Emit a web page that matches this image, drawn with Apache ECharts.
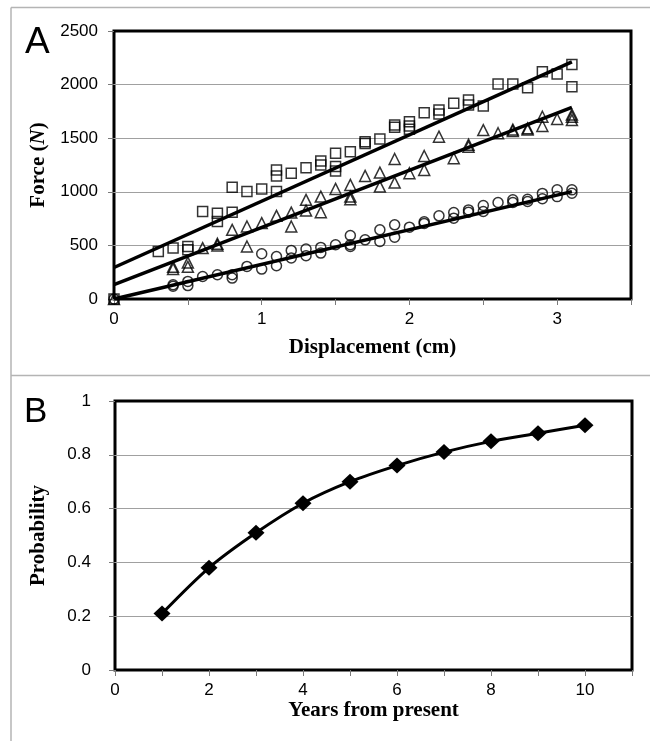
<!DOCTYPE html>
<html>
<head>
<meta charset="utf-8">
<script src="https://cdn.jsdelivr.net/npm/echarts@6/dist/echarts.min.js"></script>
<style>
    html, body { margin: 0; padding: 0; background: #ffffff; }
    #chart { width: 650px; height: 741px; }
</style>
</head>
<body>
<div id="chart"></div>
<script>
// --------------------------------------------------------------
// Panel A: force vs displacement (three specimen groups)
// --------------------------------------------------------------

const squareX = [0, 0.3, 0.4, 0.5, 0.5, 0.6, 0.7, 0.7, 0.8, 0.8, 0.9, 1.0, 1.1, 1.1, 1.1, 1.2, 1.3, 1.4, 1.4,
    1.5, 1.5, 1.5, 1.6, 1.7, 1.7, 1.8, 1.9, 1.9, 2.0, 2.0, 2.0, 2.1, 2.2, 2.2, 2.3, 2.4, 2.4, 2.5, 2.6, 2.7,
    2.8, 2.9, 3.0, 3.1, 3.1];
const squareF = [0, 443, 475, 490, 459, 816, 800, 723, 810, 1043, 1002, 1027, 1204, 1148, 1002, 1173, 1225, 1288, 1250,
    1359, 1235, 1195, 1374, 1468, 1450, 1493, 1623, 1601, 1654, 1614, 1583, 1737, 1763, 1725, 1825, 1856, 1809, 1800, 2005, 2005,
    1970, 2119, 2098, 2188, 1980];

const triangleX = [0, 0.4, 0.4, 0.5, 0.5, 0.6, 0.7, 0.7, 0.8, 0.9, 0.9, 1.0, 1.1, 1.2, 1.2, 1.3, 1.3, 1.4, 1.4,
    1.5, 1.6, 1.6, 1.6, 1.7, 1.8, 1.8, 1.9, 1.9, 2.0, 2.1, 2.1, 2.2, 2.3, 2.4, 2.4, 2.5, 2.6, 2.7, 2.7,
    2.8, 2.8, 2.9, 2.9, 3.0, 3.1, 3.1, 3.1];
const triangleF = [0, 300, 280, 340, 300, 475, 515, 500, 645, 676, 490, 708, 776, 806, 676, 925, 825, 955, 810,
    1027, 1064, 955, 931, 1148, 1179, 1049, 1306, 1086, 1173, 1334, 1204, 1514, 1313, 1440, 1420, 1576, 1546, 1567, 1580,
    1592, 1580, 1700, 1614, 1679, 1720, 1700, 1669];

const circleX = [0, 0.4, 0.4, 0.5, 0.5, 0.6, 0.7, 0.8, 0.8, 0.9, 1.0, 1.0, 1.1, 1.1, 1.2, 1.2, 1.3, 1.3, 1.4, 1.4,
    1.5, 1.6, 1.6, 1.6, 1.7, 1.8, 1.8, 1.9, 1.9, 2.0, 2.1, 2.1, 2.2, 2.3, 2.3, 2.4, 2.4, 2.5, 2.5, 2.6,
    2.7, 2.7, 2.8, 2.8, 2.9, 2.9, 3.0, 3.0, 3.1, 3.1];
const circleF = [0, 133, 119, 164, 125, 210, 226, 226, 195, 304, 422, 279, 397, 310, 453, 382, 466, 403, 481, 428,
    506, 592, 506, 490, 552, 645, 536, 692, 577, 670, 720, 705, 776, 806, 754, 831, 810, 872, 816, 900,
    925, 900, 931, 909, 985, 935, 1018, 955, 1018, 987];

// fitted lines, read at both ends
const fitX = [0, 3.1];
const squareFitF = [294, 2212];
const triangleFitF = [133, 1788];
const circleFitF = [0, 1002];

// --------------------------------------------------------------
// Panel B: probability over the years
// --------------------------------------------------------------

const years = [1, 2, 3, 4, 5, 6, 7, 8, 9, 10];
const probability = [0.21, 0.38, 0.51, 0.62, 0.70, 0.76, 0.81, 0.85, 0.88, 0.91];

// --------------------------------------------------------------
// Helpers
// --------------------------------------------------------------

const SANS = "'Liberation Sans', Arial, sans-serif";
const SERIF = "'Liberation Serif', 'Times New Roman', serif";
const PANEL_GRAY = "#b4b4b4";

function pairs(xs, ys) {
    return xs.map((x, i) => [x, ys[i]]);
}

function markerSeries(xs, ys, symbol, size) {
    return {
        type: "scatter",
        xAxisIndex: 0,
        yAxisIndex: 0,
        symbol: symbol,
        symbolSize: size,
        data: pairs(xs, ys),
        itemStyle: { color: "rgba(255,255,255,0)", borderColor: "#000", borderWidth: 1.5 },
        z: 3
    };
}

function fitSeries(ys) {
    return {
        type: "line",
        xAxisIndex: 0,
        yAxisIndex: 0,
        data: pairs(fitX, ys),
        showSymbol: false,
        symbol: "none",
        lineStyle: { color: "#000", width: 3.5 },
        z: 4
    };
}

const tickStyle = { show: true, inside: false, length: 6, lineStyle: { color: "#7a7a7a", width: 1 } };
const gridLines = { show: true, showMinLine: false, showMaxLine: false, lineStyle: { color: "#a0a0a0", width: 1.2 } };
const labelStyle = { color: "#000", fontFamily: SANS, fontSize: 17 };
const titleStyle = { color: "#000", fontFamily: SERIF, fontWeight: "bold", fontSize: 21 };

const chart = echarts.init(document.getElementById("chart"), null, { renderer: "canvas" });

chart.setOption({
    backgroundColor: "#ffffff",
    animation: false,
    grid: [
        { left: 114, top: 31, width: 517, height: 268, show: true, borderColor: "#000", borderWidth: 3, backgroundColor: "transparent" },
        { left: 115, top: 401, width: 517, height: 269, show: true, borderColor: "#000", borderWidth: 3, backgroundColor: "transparent" }
    ],
    xAxis: [
        {
            gridIndex: 0,
            type: "value",
            min: 0,
            max: 3.5,
            interval: 0.5,
            axisLine: { show: false },
            axisTick: tickStyle,
            splitLine: { show: false },
            axisLabel: Object.assign({}, labelStyle, {
                margin: 12,
                formatter: v => Number.isInteger(v) && v < 3.5 ? String(v) : ""
            }),
            name: "Displacement (cm)",
            nameLocation: "middle",
            nameGap: 38,
            nameTextStyle: titleStyle
        },
        {
            gridIndex: 1,
            type: "value",
            min: 0,
            max: 11,
            interval: 1,
            axisLine: { show: false },
            axisTick: tickStyle,
            splitLine: { show: false },
            axisLabel: Object.assign({}, labelStyle, {
                margin: 12,
                formatter: v => v % 2 === 0 && v < 11 ? String(v) : ""
            }),
            name: "Years from present",
            nameLocation: "middle",
            nameGap: 28,
            nameTextStyle: titleStyle
        }
    ],
    yAxis: [
        {
            gridIndex: 0,
            type: "value",
            min: 0,
            max: 2500,
            interval: 500,
            axisLine: { show: false },
            axisTick: tickStyle,
            splitLine: gridLines,
            axisLabel: Object.assign({}, labelStyle, { margin: 16, formatter: v => String(v) }),
            name: "Force ({i|N})",
            nameLocation: "middle",
            nameRotate: 90,
            nameGap: 64,
            nameTextStyle: Object.assign({}, titleStyle, {
                rich: { i: { fontFamily: SERIF, fontWeight: "bold", fontStyle: "italic", fontSize: 21, color: "#000" } }
            })
        },
        {
            gridIndex: 1,
            type: "value",
            min: 0,
            max: 1,
            interval: 0.2,
            axisLine: { show: false },
            axisTick: tickStyle,
            splitLine: gridLines,
            axisLabel: Object.assign({}, labelStyle, { margin: 24, formatter: v => String(v) }),
            name: "Probability",
            nameLocation: "middle",
            nameRotate: 90,
            nameGap: 66,
            nameTextStyle: titleStyle
        }
    ],
    series: [
        markerSeries(squareX, squareF, "rect", 10),
        markerSeries(triangleX, triangleF, "triangle", 11),
        markerSeries(circleX, circleF, "circle", 10),
        fitSeries(squareFitF),
        fitSeries(triangleFitF),
        fitSeries(circleFitF),
        {
            type: "line",
            xAxisIndex: 1,
            yAxisIndex: 1,
            data: pairs(years, probability),
            smooth: 0.3,
            symbol: "diamond",
            symbolSize: [17, 16],
            itemStyle: { color: "#000" },
            lineStyle: { color: "#000", width: 3 },
            z: 4
        }
    ],
    graphic: [
        // panel frames
        { type: "line", shape: { x1: 11, y1: 7.5, x2: 650, y2: 7.5 }, style: { stroke: PANEL_GRAY, lineWidth: 1.5 } },
        { type: "line", shape: { x1: 11, y1: 375.5, x2: 650, y2: 375.5 }, style: { stroke: PANEL_GRAY, lineWidth: 1.5 } },
        { type: "line", shape: { x1: 11, y1: 7.5, x2: 11, y2: 741 }, style: { stroke: PANEL_GRAY, lineWidth: 1.5 } },
        // panel letters
        { type: "text", left: 25, top: 24, style: { text: "A", font: "37px " + SANS, fill: "#000" } },
        { type: "text", left: 24, top: 395, style: { text: "B", font: "35px " + SANS, fill: "#000" } }
    ]
});
</script>
</body>
</html>
